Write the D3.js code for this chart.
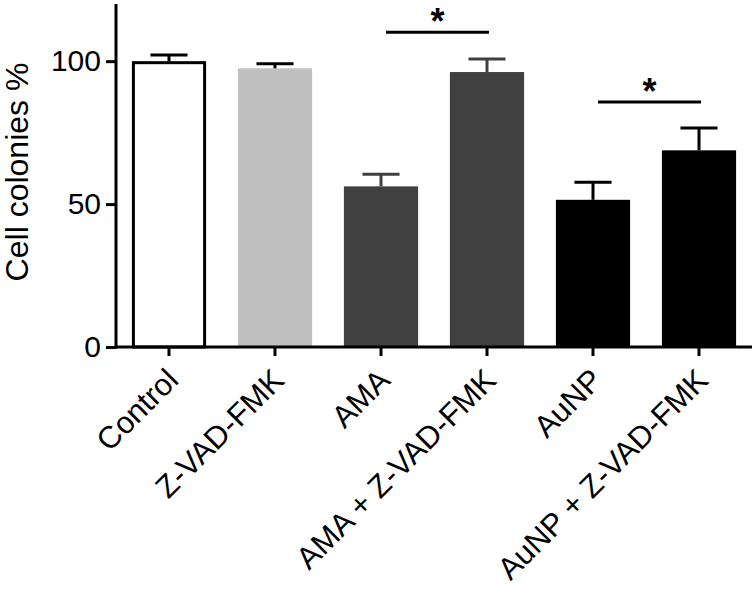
<!DOCTYPE html>
<html>
<head>
<meta charset="utf-8">
<script src="https://cdn.jsdelivr.net/npm/d3@7"></script>
<style>
  html, body { margin: 0; padding: 0; background: #fff; }
  text { font-family: "Liberation Sans", Arial, Helvetica, sans-serif; }
</style>
</head>
<body>
<svg id="chart" width="755" height="601"></svg>
<script>
const categories = ["Control", "Z-VAD-FMK", "AMA", "AMA + Z-VAD-FMK", "AuNP", "AuNP + Z-VAD-FMK"];
const means = [100, 97.5, 56.2, 96.2, 51.5, 68.8];
const errors = [2.2, 1.6, 4.2, 4.6, 6.1, 7.8];
const fills = ["#ffffff", "#c0c0c0", "#404040", "#404040", "#000000", "#000000"];
const yTicks = [0, 50, 100];
const sigFrom = ["AMA", "AuNP"];
const sigTo = ["AMA + Z-VAD-FMK", "AuNP + Z-VAD-FMK"];
const sigLevel = [110.1, 85.7];
const sigLabel = ["*", "*"];

(function () {
const svg = d3.select("#chart");
const mLeft = 116, mRight = 752, mTop = 4, mBottom = 347;

const x = d3.scaleBand().domain(categories).range([mLeft, mRight]).paddingInner(0.3).paddingOuter(0.15);
const y = d3.scaleLinear().domain([0, 120]).range([mBottom, mTop]);

const data = categories.map((c, i) => ({ c, m: means[i], e: errors[i], f: fills[i] }));

// bars
svg.append("g").selectAll("rect").data(data).join("rect")
  .attr("x", d => x(d.c) + (d.c === "Control" ? 1.5 : 0))
  .attr("y", d => y(d.m) + (d.c === "Control" ? 1.5 : 0))
  .attr("width", d => x.bandwidth() - (d.c === "Control" ? 3 : 0))
  .attr("height", d => mBottom - y(d.m) - (d.c === "Control" ? 1.5 : 0))
  .attr("fill", d => d.f)
  .attr("stroke", d => d.c === "Control" ? "#000" : "none")
  .attr("stroke-width", 3);

// error bars (upper only)
const eb = svg.append("g").selectAll("g").data(data).join("g");
const capW = x.bandwidth() / 2;
const ebColor = d => (d.c === "Control" || d.c === "Z-VAD-FMK") ? "#000" : d.f;
eb.append("line")
  .attr("x1", d => x(d.c) + x.bandwidth() / 2)
  .attr("x2", d => x(d.c) + x.bandwidth() / 2)
  .attr("y1", d => y(d.m))
  .attr("y2", d => y(d.m + d.e))
  .attr("stroke", ebColor)
  .attr("stroke-width", 3);
eb.append("line")
  .attr("x1", d => x(d.c) + x.bandwidth() / 2 - capW / 2)
  .attr("x2", d => x(d.c) + x.bandwidth() / 2 + capW / 2)
  .attr("y1", d => y(d.m + d.e))
  .attr("y2", d => y(d.m + d.e))
  .attr("stroke", ebColor)
  .attr("stroke-width", 3);

// axes
const yAxis = svg.append("g").attr("transform", `translate(${mLeft},0)`)
  .call(d3.axisLeft(y).tickValues(yTicks).tickSize(10).tickPadding(5).tickSizeOuter(0));
yAxis.select(".domain").attr("stroke-width", 3).attr("d", `M0,${mTop}V${mBottom + 1.5}`);
yAxis.selectAll(".tick line").attr("stroke-width", 3);
yAxis.selectAll(".tick text").attr("font-size", 30).attr("fill", "#000")
  .attr("font-family", '"Liberation Sans", Arial, sans-serif');

const xAxis = svg.append("g").attr("transform", `translate(0,${mBottom})`)
  .call(d3.axisBottom(x).tickSize(9).tickSizeOuter(0).tickFormat(""));
xAxis.select(".domain").attr("stroke-width", 3).attr("d", `M${mLeft - 1.5},0H${mRight}`);
xAxis.selectAll(".tick line").attr("stroke-width", 3);

svg.append("g").selectAll("text").data(categories).join("text")
  .attr("transform", d => `translate(${x(d) + x.bandwidth() / 2 + 11},${mBottom + 35}) rotate(-45)`)
  .attr("text-anchor", "end")
  .attr("font-size", 31)
  .attr("fill", "#000")
  .text(d => d);

// y label
svg.append("text")
  .attr("transform", `translate(28,172) rotate(-90)`)
  .attr("text-anchor", "middle")
  .attr("font-size", 32)
  .attr("fill", "#000")
  .text("Cell colonies %");

// significance
sigFrom.forEach((a, i) => {
  const x1 = x(a) + x.bandwidth() / 2 + 5;
  const x2 = x(sigTo[i]) + x.bandwidth() / 2 + 2;
  svg.append("line").attr("x1", x1).attr("x2", x2)
    .attr("y1", y(sigLevel[i])).attr("y2", y(sigLevel[i]))
    .attr("stroke", "#000").attr("stroke-width", 3);
  svg.append("text").attr("x", (x1 + x2) / 2).attr("y", y(sigLevel[i]) + 2)
    .attr("text-anchor", "middle").attr("font-size", 36).attr("font-weight", "bold")
    .attr("fill", "#000").text(sigLabel[i]);
});
})();
</script>
</body>
</html>
